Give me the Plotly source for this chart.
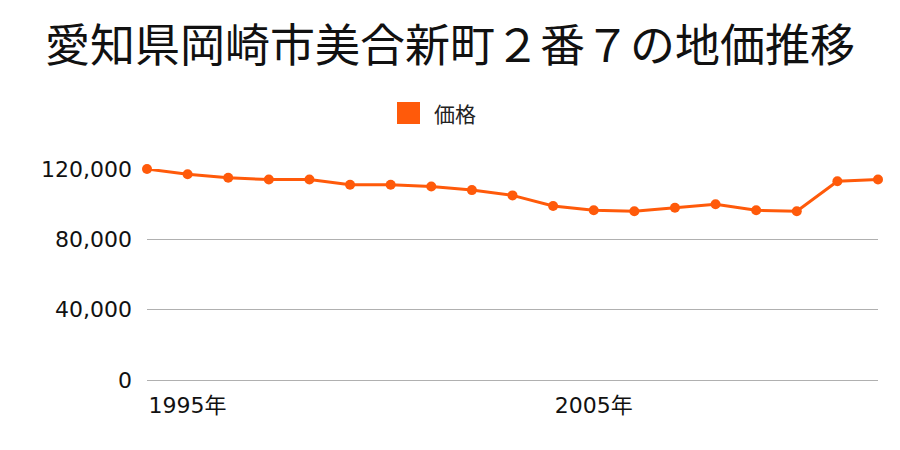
import plotly.graph_objects as go

title = "愛知県岡崎市美合新町２番７の地価推移"
series_name = "価格"
years = list(range(1994, 2013))
prices = [120000, 117000, 115000, 114000, 114000, 111000, 111000, 110000, 108000,
          105000, 99000, 96500, 96000, 98000, 100000, 96500, 96000, 113000, 114000]
x_ticks = [1995, 2005]
x_tick_labels = ["1995年", "2005年"]
y_ticks = [0, 40000, 80000, 120000]
y_tick_labels = ["0", "40,000", "80,000", "120,000"]

color = "#ff5a0a"
cjk = "Noto Sans CJK JP"
num_font = "DejaVu Sans, Noto Sans CJK JP"

fig = go.Figure()
fig.add_trace(go.Scatter(
    x=years, y=prices, mode="lines+markers",
    line=dict(color=color, width=3),
    marker=dict(color=color, size=10),
    cliponaxis=False, showlegend=False, name=series_name,
))

# legend drawn as a square + label in paper coordinates
W, H = 900, 450
L, R, T, B = 147, 22, 169, 70
pw, ph = W - L - R, H - T - B
def px(x):
    return (x - L) / pw
def py(y):
    return (H - B - y) / ph

fig.add_shape(type="rect", xref="paper", yref="paper",
              x0=px(397), x1=px(420), y0=py(124), y1=py(102),
              fillcolor=color, line=dict(width=0))
fig.add_annotation(text=series_name, xref="paper", yref="paper",
                   x=px(432), y=py(113), xanchor="left", yanchor="middle",
                   showarrow=False, font=dict(size=21, family=cjk, color="#222"))

fig.update_layout(
    width=W, height=H,
    margin=dict(l=L, r=R, t=T, b=B),
    paper_bgcolor="white", plot_bgcolor="white",
    font=dict(family=cjk, color="#222"),
    showlegend=False,
    title=dict(text=title, x=0.5, xanchor="center", y=1 - 46 / 450, yanchor="middle",
               font=dict(size=45, family=cjk, color="#111")),
    xaxis=dict(range=[1994, 2012], tickvals=x_ticks, ticktext=x_tick_labels,
               showgrid=False, zeroline=False, showline=False, ticks="",
               ticklabelstandoff=10,
               tickfont=dict(size=22, family=num_font, color="#111")),
    yaxis=dict(range=[0, 120000], tickvals=y_ticks, ticktext=y_tick_labels,
               showgrid=True, gridcolor="#b0b0b0", gridwidth=1,
               zeroline=True, zerolinecolor="#b0b0b0", zerolinewidth=1,
               showline=False, ticks="", ticklabelstandoff=14,
               tickfont=dict(size=22, family=num_font, color="#111")),
)

fig.write_html("out.html")
